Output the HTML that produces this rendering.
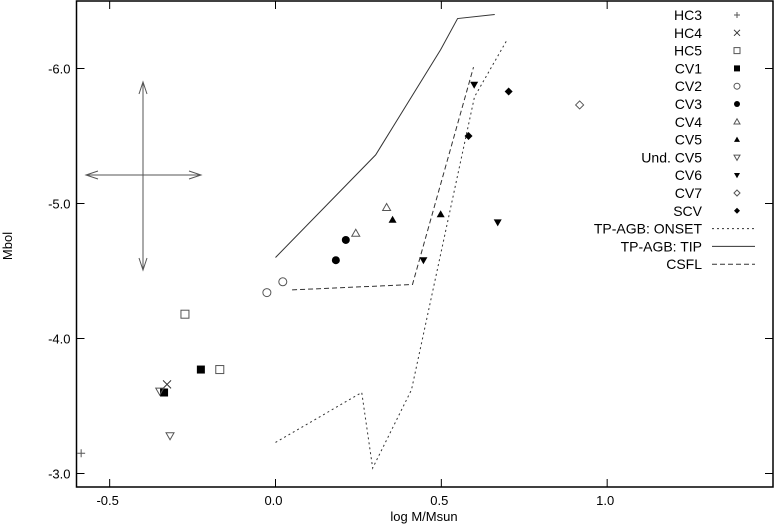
<!DOCTYPE html>
<html><head><meta charset="utf-8"><style>
html,body{margin:0;padding:0;background:#fff;}
svg{display:block;font-family:"Liberation Sans",sans-serif;}
</style></head><body>
<svg id="chart" width="775" height="526" viewBox="0 0 775 526" xmlns="http://www.w3.org/2000/svg">
<g id="axes"></g>
<g id="marks"></g>
<g id="legend"></g>
<g stroke="#555" fill="none" stroke-width="1">
<line x1="143" y1="82" x2="143" y2="270"/><polyline points="139,94 143,82 147,94"/><polyline points="139,258 143,270 147,258"/>
<line x1="86" y1="175" x2="201" y2="175"/><polyline points="98,171 86,175 98,179"/><polyline points="189,171 201,175 189,179"/>
</g>
<text x="12" y="246" font-size="13" text-anchor="middle" transform="rotate(-90 12 246)">Mbol</text>
<text x="424" y="521" font-size="13" text-anchor="middle">log M/Msun</text>
</svg>
<script>
const xTicks=[-0.5,0.0,0.5,1.0];
const xTickLabels=["-0.5","0.0","0.5","1.0"];
const yTicks=[-6,-5,-4,-3];
const yTickLabels=["-6.0","-5.0","-4.0","-3.0"];
const seriesNames=["HC3","HC4","HC5","CV1","CV2","CV3","CV4","CV5","Und. CV5","CV6","CV7","SCV"];
const seriesSymbols=["plus","cross","sq","fsq","circ","fcirc","tri","ftri","itri","fitri","dia","fdia"];
const hc3X=[-0.586],hc3Y=[-3.15];
const hc4X=[-0.327],hc4Y=[-3.66];
const hc5X=[-0.273,-0.168],hc5Y=[-4.18,-3.77];
const cv1X=[-0.336,-0.225],cv1Y=[-3.60,-3.77];
const cv2X=[-0.026,0.022],cv2Y=[-4.34,-4.42];
const cv3X=[0.182,0.212],cv3Y=[-4.58,-4.73];
const cv4X=[0.242,0.335],cv4Y=[-4.78,-4.97];
const cv5X=[0.353,0.498],cv5Y=[-4.88,-4.92];
const undX=[-0.349,-0.318],undY=[-3.61,-3.28];
const cv6X=[0.446,0.599,0.67],cv6Y=[-4.58,-5.88,-4.86];
const cv7X=[0.917],cv7Y=[-5.73];
const scvX=[0.582,0.703],scvY=[-5.50,-5.83];
const onsetX=[0,0.26,0.293,0.41,0.60,0.70],onsetY=[-3.23,-3.60,-3.04,-3.62,-5.79,-6.22];
const tipX=[0,0.302,0.498,0.549,0.661],tipY=[-4.60,-5.36,-6.14,-6.37,-6.40];
const csflX=[0.05,0.413,0.597],csflY=[-4.36,-4.40,-6.01];

const L=76.5,R=773,T=1,B=487,XMIN=-0.6,XMAX=1.5,YMIN=-6.5,YMAX=-2.9;
const sx=v=>L+(v-XMIN)/(XMAX-XMIN)*(R-L);
const sy=v=>T+(v-YMIN)/(YMAX-YMIN)*(B-T);
const NS="http://www.w3.org/2000/svg";
function mk(tag,attrs,parent){const e=document.createElementNS(NS,tag);for(const k in attrs)e.setAttribute(k,attrs[k]);parent.appendChild(e);return e;}
const axes=document.getElementById('axes'),marks=document.getElementById('marks'),legend=document.getElementById('legend');
const frame=mk('rect',{x:L,y:T,width:R-L,height:B-T,fill:'none',stroke:'#000','stroke-width':1.5},axes);


xTicks.forEach((v,i)=>{const x=sx(v);
 const t=mk('path',{d:`M${x},${B}V${B-8}M${x},${T}V${T+8}`,stroke:'#000','stroke-width':1},axes);
 
 
 const l=mk('text',{x:x-2,y:B+18,'font-size':13,'text-anchor':'middle'},axes);l.textContent=xTickLabels[i];
 
 });
yTicks.forEach((v,i)=>{const y=sy(v);
 const t=mk('path',{d:`M${L},${y}H${L+8}M${R},${y}H${R-8}`,stroke:'#000','stroke-width':1},axes);
 
 
 const l=mk('text',{x:L-6,y:y+5,'font-size':13,'text-anchor':'end'},axes);l.textContent=yTickLabels[i];
 
 });
function sym(kind,x,y,p,s){s=s||4;const g='#555';const h=s*0.75;let e;
 switch(kind){
 case'plus':e=mk('path',{d:`M${x-s},${y}H${x+s}M${x},${y-s}V${y+s}`,stroke:g,fill:'none'},p);break;
 case'cross':e=mk('path',{d:`M${x-s},${y-s}L${x+s},${y+s}M${x-s},${y+s}L${x+s},${y-s}`,stroke:'#333',fill:'none'},p);break;
 case'sq':e=mk('rect',{x:x-s,y:y-s,width:2*s,height:2*s,stroke:g,fill:'none'},p);break;
 case'fsq':e=mk('rect',{x:x-s,y:y-s,width:2*s,height:2*s,fill:'#000'},p);break;
 case'circ':e=mk('circle',{cx:x,cy:y,r:s,stroke:g,fill:'none'},p);break;
 case'fcirc':e=mk('circle',{cx:x,cy:y,r:s,fill:'#000'},p);break;
 case'tri':e=mk('path',{d:`M${x},${y-s}L${x+s},${y+h}L${x-s},${y+h}Z`,stroke:g,fill:'none'},p);break;
 case'ftri':e=mk('path',{d:`M${x},${y-s}L${x+s},${y+h}L${x-s},${y+h}Z`,fill:'#000'},p);break;
 case'itri':e=mk('path',{d:`M${x},${y+s}L${x+s},${y-h}L${x-s},${y-h}Z`,stroke:g,fill:'none'},p);break;
 case'fitri':e=mk('path',{d:`M${x},${y+s}L${x+s},${y-h}L${x-s},${y-h}Z`,fill:'#000'},p);break;
 case'dia':e=mk('path',{d:`M${x},${y-s}L${x+s},${y}L${x},${y+s}L${x-s},${y}Z`,stroke:g,fill:'none'},p);break;
 case'fdia':e=mk('path',{d:`M${x},${y-s}L${x+s},${y}L${x},${y+s}L${x-s},${y}Z`,fill:'#000'},p);break;}
 return e;}
const seriesX=[hc3X,hc4X,hc5X,cv1X,cv2X,cv3X,cv4X,cv5X,undX,cv6X,cv7X,scvX];
const seriesY=[hc3Y,hc4Y,hc5Y,cv1Y,cv2Y,cv3Y,cv4Y,cv5Y,undY,cv6Y,cv7Y,scvY];
function line(xs,ys,dash,name){const pts=xs.map((v,i)=>sx(v)+','+sy(ys[i])).join(' ');
 const e=mk('polyline',{points:pts,fill:'none',stroke:'#333','stroke-width':1,'stroke-dasharray':dash},marks);
 
 }
line(onsetX,onsetY,'2,3','tp-agb-onset-line');
line(tipX,tipY,'none','tp-agb-tip-line');
line(csflX,csflY,'5,3','csfl-line');
seriesX.forEach((xs,s)=>xs.forEach((v,i)=>{const e=sym(seriesSymbols[s],sx(v),sy(seriesY[s][i]),marks);
 
 }));
const legNames=seriesNames.concat(["TP-AGB: ONSET","TP-AGB: TIP","CSFL"]);
const legDash=['2,3','none','5,3'];
legNames.forEach((n,i)=>{const y=15+i*17.8;
 const t=mk('text',{x:702,y:y+5,'font-size':14,'text-anchor':'end'},legend);t.textContent=n;
 
 
 let e;
 if(i<12)e=sym(seriesSymbols[i],737,y,legend,3);
 else e=mk('line',{x1:712,y1:y,x2:755,y2:y,stroke:'#333','stroke-dasharray':legDash[i-12]},legend);
 
 });
</script>
</body></html>
